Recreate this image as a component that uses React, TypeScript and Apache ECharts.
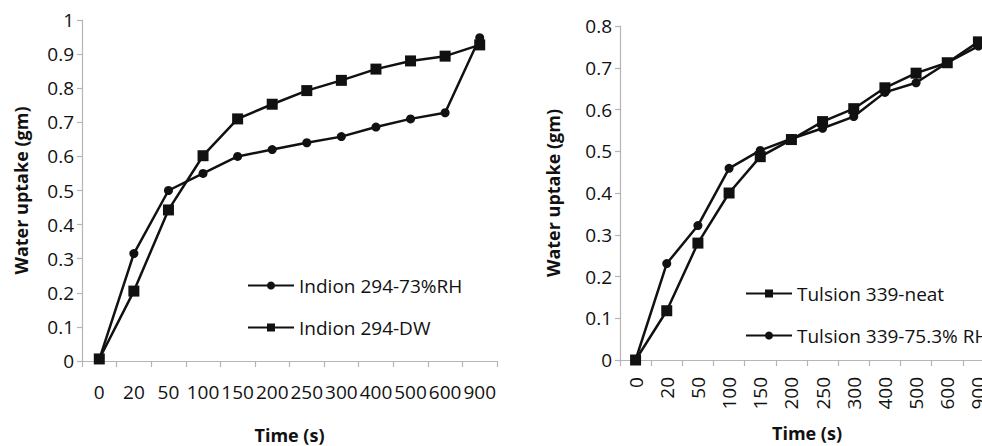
import React, { useEffect, useRef } from "react";
import * as echarts from "echarts";

// Sampling times (s) shared by both panels
const timeLabels = ["0", "20", "50", "100", "150", "200", "250", "300", "400", "500", "600", "900"];

// Indion 294 water uptake (gm)
const indionRH = [0.005, 0.315, 0.5, 0.55, 0.6, 0.62, 0.64, 0.658, 0.686, 0.71, 0.728, 0.948];
const indionDW = [0.006, 0.205, 0.443, 0.602, 0.71, 0.753, 0.793, 0.823, 0.856, 0.88, 0.894, 0.927];

// Tulsion 339 water uptake (gm)
const tulsionNeat = [0, 0.118, 0.28, 0.4, 0.487, 0.528, 0.571, 0.602, 0.652, 0.687, 0.712, 0.762];
const tulsionRH = [0, 0.231, 0.322, 0.459, 0.502, 0.53, 0.555, 0.583, 0.641, 0.664, 0.712, 0.752];

const leftNames = ["Indion 294-73%RH", "Indion 294-DW"];
const rightNames = ["Tulsion 339-neat", "Tulsion 339-75.3% RH"];

const FONT = "Open Sans";
const INK = "#111";
const AXIS_GREY = "#b5b5b5";

const lineSeries = (name: string, data: number[], symbol: string, size: number, idx: number) => ({
  type: "line",
  name,
  data,
  xAxisIndex: idx,
  yAxisIndex: idx,
  symbol,
  symbolSize: size,
  showAllSymbol: true,
  lineStyle: { color: INK, width: 2.5 },
  itemStyle: { color: INK, borderColor: INK, borderWidth: 0 },
  emphasis: { disabled: true },
});

const xAxisBase = (gridIndex: number, rotate: number, margin: number, nameGap: number) => ({
  type: "category",
  gridIndex,
  data: timeLabels,
  boundaryGap: true,
  name: "Time (s)",
  nameLocation: "middle",
  nameGap,
  nameTextStyle: { fontFamily: FONT, fontSize: 18, fontWeight: "bold", color: INK },
  axisLine: { lineStyle: { color: AXIS_GREY, width: 1.2 } },
  axisTick: { show: true, length: 6, lineStyle: { color: AXIS_GREY, width: 1.2 } },
  axisLabel: {
    fontFamily: FONT,
    fontSize: 19,
    color: INK,
    interval: 0,
    rotate,
    margin,
  },
  splitLine: { show: false },
});

const yAxisBase = (gridIndex: number, max: number, nameGap: number) => ({
  type: "value",
  gridIndex,
  min: 0,
  max,
  interval: 0.1,
  name: "Water uptake (gm)",
  nameLocation: "middle",
  nameGap,
  nameTextStyle: { fontFamily: FONT, fontSize: 18, fontWeight: "bold", color: INK },
  axisLine: { show: true, lineStyle: { color: AXIS_GREY, width: 1.2 } },
  axisTick: { show: true, length: 5, lineStyle: { color: AXIS_GREY, width: 1.2 } },
  axisLabel: {
    fontFamily: FONT,
    fontSize: 19,
    color: INK,
    margin: 8,
    formatter: (v: number) => String(Math.round(v * 10) / 10),
  },
  splitLine: { show: false },
});

const legendBase = (names: string[], left: number, top: number) => ({
  data: names,
  left,
  top,
  padding: 0,
  orient: "vertical",
  itemWidth: 46,
  itemHeight: 10,
  itemGap: 23,
  selectedMode: false,
  textStyle: { fontFamily: FONT, fontSize: 19, color: INK },
});

export default function App() {
  const ref = useRef<HTMLDivElement>(null);

  useEffect(() => {
    document.body.style.margin = "0";
    if (!ref.current) return;
    const chart = echarts.init(ref.current, null, { renderer: "svg" });
    chart.setOption({
      animation: false,
      backgroundColor: "#fff",
      grid: [
        { left: 82, top: 20, width: 415, height: 341, outerBoundsMode: "none", containLabel: false },
        { left: 620, top: 26, width: 374, height: 334, outerBoundsMode: "none", containLabel: false },
      ],
      xAxis: [xAxisBase(0, 0, 21, 65), xAxisBase(1, 90, 17, 64)],
      yAxis: [yAxisBase(0, 1, 52), yAxisBase(1, 0.8, 58)],
      legend: [legendBase(leftNames, 247, 276), legendBase(rightNames, 745, 284)],
      series: [
        lineSeries(leftNames[0], indionRH, "circle", 9, 0),
        lineSeries(leftNames[1], indionDW, "rect", 11, 0),
        lineSeries(rightNames[0], tulsionNeat, "rect", 11, 1),
        lineSeries(rightNames[1], tulsionRH, "circle", 9, 1),
      ],
    });
    return () => chart.dispose();
  }, []);

  // The right plot area runs a little past the right edge; the frame crops it there.
  return (
    <div style={{ width: 982, height: 446, overflow: "hidden", position: "relative" }}>
      <div ref={ref} style={{ width: 1010, height: 446 }} />
    </div>
  );
}
